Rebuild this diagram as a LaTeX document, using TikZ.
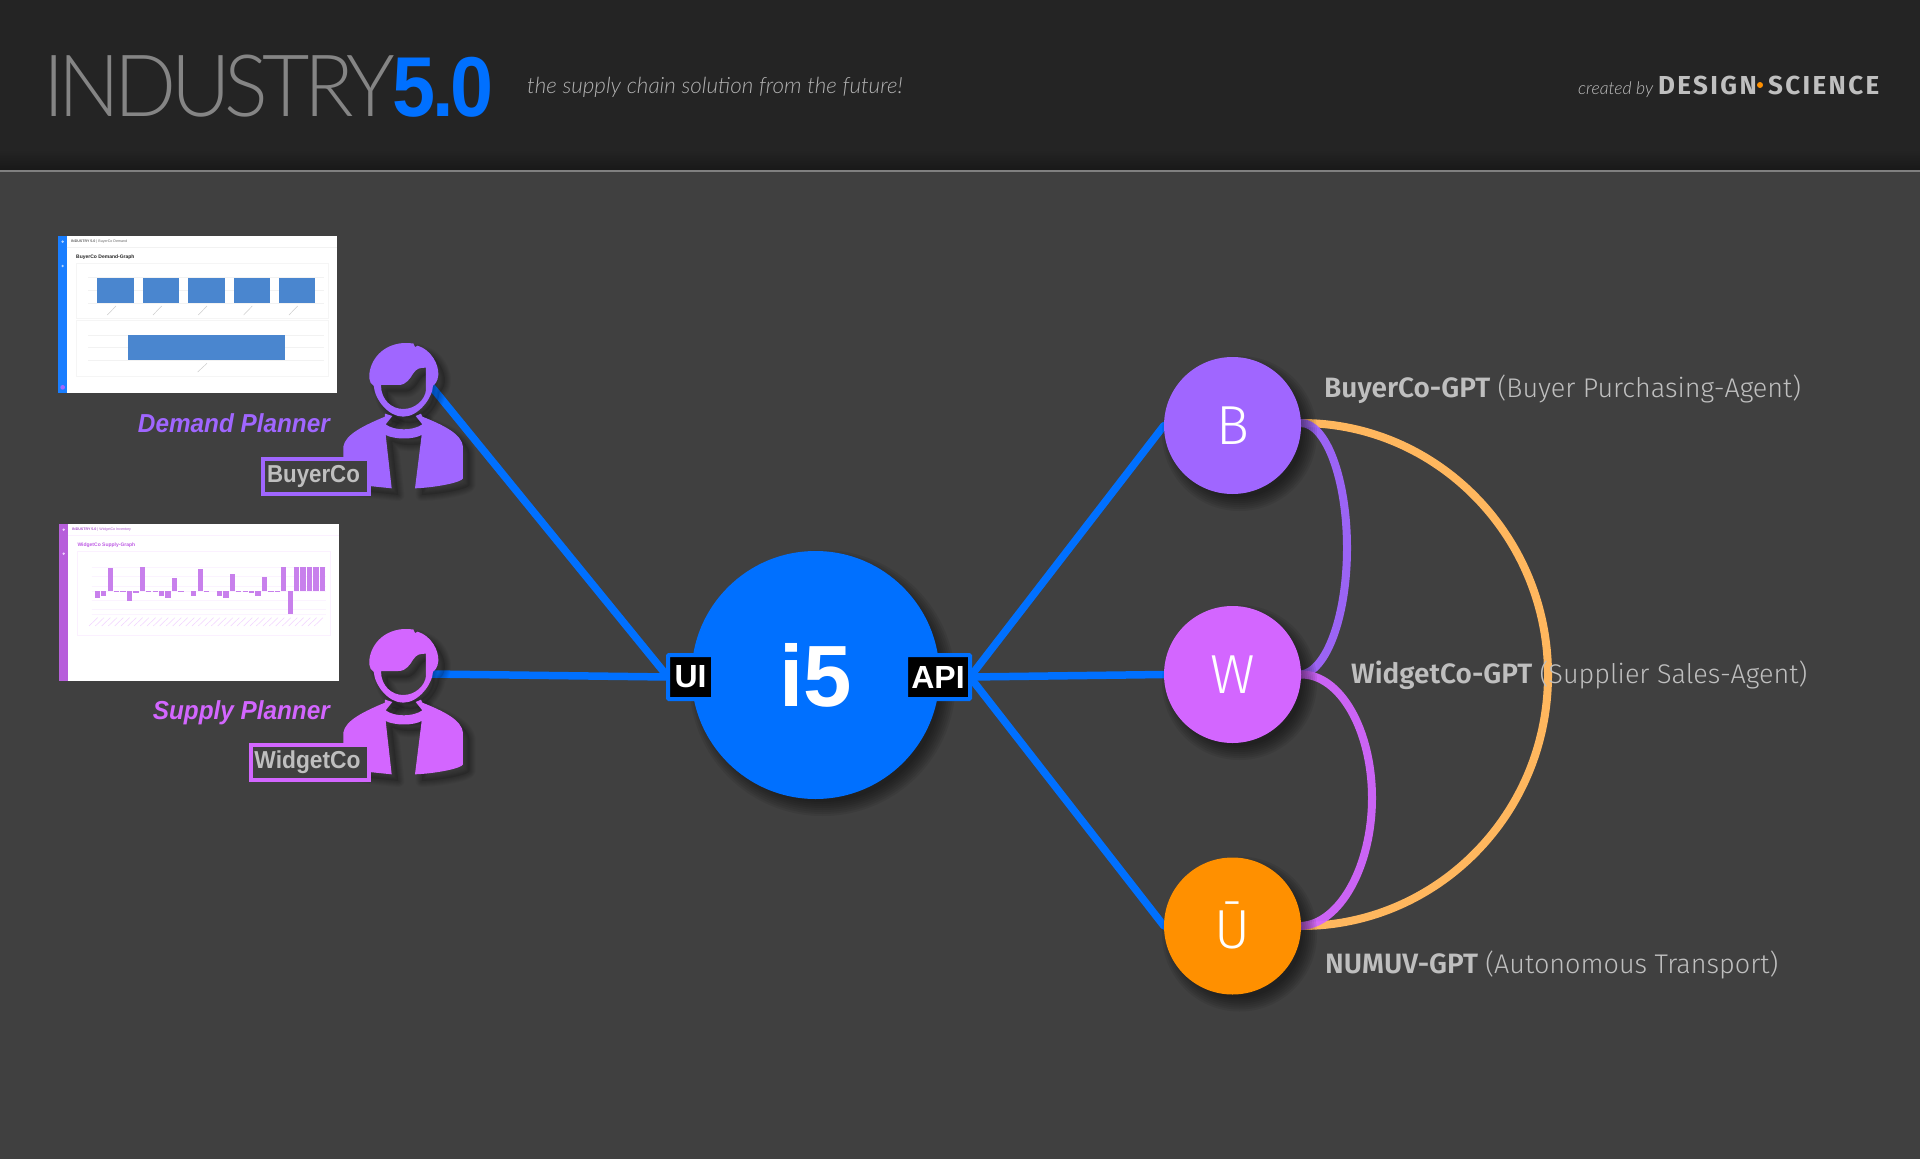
\documentclass[tikz,border=0pt]{standalone}
\usepackage{graphicx}
\usepackage{fontspec}
\setmainfont{Liberation Sans}
\newfontfamily\thinf{Lato Light}
\newfontfamily\lightf{Fira Sans Light}
\newfontfamily\boldf{Fira Sans SemiBold}
\newfontfamily\dsf{Fira Sans Bold}
\newfontfamily\robl{Lato Light}[ItalicFont=* Italic]
\definecolor{bgc}{HTML}{404040}
\definecolor{headc}{HTML}{242424}
\definecolor{blu}{HTML}{0070FF}
\definecolor{pur}{HTML}{A066FF}
\definecolor{pnk}{HTML}{D366FF}
\definecolor{org}{HTML}{FF9000}
\definecolor{lorg}{HTML}{FFB75E}
\definecolor{lbl}{HTML}{BFBFBF}
\definecolor{barb}{HTML}{4A86CF}
\definecolor{barp}{HTML}{C880EC}
\pgfdeclarelayer{wires}
\pgfsetlayers{wires,main}
\def\headpath{(103,130) .. controls (100,90) and (130,30) .. (205,24) -- (235,25) -- (240,36) -- (248,32) .. controls (290,45) and (312,90) .. (310,120) .. controls (308,140) and (300,148) .. (294,152) .. controls (292,190) and (250,245) .. (205,245) .. controls (160,245) and (120,195) .. (116,152) .. controls (108,148) and (104,140) .. (103,130) -- cycle (138,150) -- (190,150) .. controls (215,150) and (225,130) .. (235,115) .. controls (245,100) and (255,98) .. (273,98) -- (273,165) .. controls (270,195) and (240,222) .. (205,222) .. controls (170,222) and (138,195) .. (138,150) -- cycle}
\def\bodypath{(150,236) -- (172,243) -- (152,268) .. controls (178,288) and (235,288) .. (262,268) -- (242,243) -- (258,236) -- (262,245) .. controls (330,272) and (380,298) .. (384,335) -- (384,430) .. controls (382,442) and (300,458) .. (240,460) -- (260,300) .. controls (235,314) and (180,314) .. (152,300) -- (170,460) -- (25,445) -- (25,335) .. controls (30,298) and (90,270) .. (150,245) -- cycle}
\newcommand\personfig[2]{%
  \begin{scope}[shift={(#1)},x=.3333pt,y=-.3333pt]
    \foreach \w in {36,30,24,18,12,6}{
      \path[draw=black,line width=\w*.3333pt,line join=round,draw opacity=.04,shift={(20,20)}] \headpath;
      \path[draw=black,line width=\w*.3333pt,line join=round,draw opacity=.04,shift={(20,20)}] \bodypath;
    }
    \path[fill=black,fill opacity=.12,even odd rule,shift={(20,20)}] \headpath;
    \path[fill=black,fill opacity=.12,shift={(20,20)}] \bodypath;
    \path[fill=#2,even odd rule] \headpath;
    \path[fill=#2] \bodypath;
  \end{scope}}
\newcommand\softshadow[3]{%
  \foreach \k in {9,7,5,3,1,-1,-3,-5}{
    \fill[black,opacity=.07] ({#1+7},{#2+8}) circle ({#3+\k});
  }}
\tikzset{
  agent/.style={circle,inner sep=0pt,outer sep=0pt,minimum size=137pt,text=white,font=\lightf\fontsize{55}{55}\selectfont},
  port/.style={draw=blu,line width=4pt,fill=black,text=white,inner sep=0pt,outer sep=0pt,rounded corners=1pt,font=\bfseries\fontsize{32}{32}\selectfont,minimum height=44pt},
  wire/.style={draw=blu,line width=7.5pt,line cap=round},
  link/.style={line width=8pt,line cap=round},
  tagbox/.style={draw=#1,line width=4pt,fill=bgc,inner sep=0pt,text=lbl,font=\bfseries\fontsize{24.5}{25}\selectfont,minimum height=35pt},
  role/.style={anchor=base east,xscale=.935,inner sep=0pt,font=\bfseries\itshape\fontsize{26}{26}\selectfont},
  agentlabel/.style={anchor=base west,text=lbl,inner sep=0pt,font=\lightf\fontsize{27}{27}\selectfont},
  toplabel/.style={anchor=base west,inner sep=0pt},
  scrtitle/.style={anchor=west,inner sep=0pt,font=\bfseries\fontsize{5}{5}\selectfont},
  scrhead/.style={anchor=west,inner sep=0pt,font=\fontsize{3.6}{4}\selectfont},
}
\begin{document}
\begin{tikzpicture}[x=1pt,y=-1pt]
\useasboundingbox (0,0) rectangle (1920,1159);
\begin{pgfonlayer}{wires}
\fill[bgc] (0,0) rectangle (1920,1159);
\fill[headc] (0,0) rectangle (1920,150);
\shade[top color=headc,bottom color=black!35!headc] (0,150) rectangle (1920,171);
\draw[black!50,line width=1.5pt] (0,171) -- (1920,171);
\end{pgfonlayer}

% header
\node[toplabel,xscale=.95,text=black!48,font=\thinf\fontsize{86}{86}\selectfont\addfontfeature{LetterSpace=-7}] (title) at (43,116) {INDUSTRY};
\node[toplabel,xscale=.91,text=blu,font=\bfseries\fontsize{85}{85}\selectfont\addfontfeature{LetterSpace=-4}] (ver) at (392,116) {5.0};
\node[toplabel,text=black!30,font=\robl\itshape\fontsize{22.4}{23}\selectfont] (tag) at (527,93) {the supply chain solution from the future!};
\node[toplabel,text=black!25,font=\robl\itshape\fontsize{17.6}{18}\selectfont] (created) at (1578,94) {created by};
\node[toplabel,text=lbl,font=\dsf\fontsize{26}{26}\selectfont\addfontfeature{LetterSpace=9}] (design) at (1658,94) {DESIGN};
\fill[org] (1760,85) circle (3pt);
\node[toplabel,text=lbl,font=\dsf\fontsize{26}{26}\selectfont\addfontfeature{LetterSpace=9}] (science) at (1768,94) {SCIENCE};

% screenshot 1
\begin{scope}[shift={(40,225)},x=.3333pt,y=-.3333pt]
  \fill[white] (54,33) rectangle (890,503);
  \fill[blu!90!white] (54,33) rectangle (80,503);
  \fill[white!70!blu] (68,50) circle (4) (68,123) circle (4);
  \fill[pur] (68,487) circle (7);
  \draw[black!5,line width=.4pt] (80,67) -- (890,67);
  \node[scrhead,text=black!60] (s1h) at (93,50) {\textbf{INDUSTRY 5.0}\ |\ BuyerCo Demand};
  \node[scrtitle,text=black!85] (s1t) at (108,97) {BuyerCo Demand-Graph};
  \draw[black!4,line width=.5pt] (110,116) rectangle (865,280) (110,285) rectangle (865,453);
  \foreach \yy in {158,196,234,330,367,405}{\draw[black!5,line width=.4pt] (145,\yy) -- (853,\yy);}
  \foreach \xx in {172,309,445,581,717}{
    \fill[barb] (\xx,158) rectangle ({\xx+109},234);
    \draw[black!20,line width=.5pt] ({\xx+30},270) -- ({\xx+56},243);
  }
  \fill[barb] (263,330) rectangle (735,405);
  \draw[black!20,line width=.5pt] (473,441) -- (501,415);
\end{scope}

% screenshot 2
\begin{scope}[shift={(40,515)},x=.3333pt,y=-.3333pt]
  \fill[white] (57,27) rectangle (897,497);
  \fill[pnk!85!black!95] (57,27) rectangle (84,497);
  \fill[white!70!pnk] (71,44) circle (4) (71,116) circle (4);
  \draw[pnk!10,line width=.4pt] (84,61) -- (897,61);
  \node[scrhead,text=pnk!80!black] (s2h) at (96,44) {\textbf{INDUSTRY 5.0}\ |\ WidgetCo Inventory};
  \node[scrtitle,text=pnk!90!black] (s2t) at (112,90) {WidgetCo Supply-Graph};
  \draw[pnk!10,line width=.5pt] (112,108) rectangle (870,360);
  \foreach \yy in {157,185,213,228,256,284,298}{\draw[pnk!8,line width=.4pt] (155,\yy) -- (858,\yy);}
  \foreach \xx/\tip in {164/248,183/243,203/160,222/232,241/231,260/258,280/235,299/157,318/231,338/231,357/243,376/250,396/190,415/231,453/243,473/162,492/231,530/243,550/250,569/177,588/231,608/231,627/235,646/243,665/185,685/232,704/231,723/157,743/298,762/157,781/157,801/157,820/157,840/157}{
    \fill[barp] (\xx,228) rectangle ({\xx+16},\tip);
  }
  \foreach \xx in {147,166,185,205,224,243,263,282,301,321,340,359,379,398,417,437,456,475,495,514,533,553,572,591,611,630,649,669,688,707,727,746,765,785,804,823}{
    \draw[pnk!30,line width=.5pt] (\xx,333) -- ({\xx+26},308);
  }
\end{scope}

% people (free ends of their connectors are the two coordinates)
\coordinate (p1) at (431,386);
\coordinate (p2) at (431,674);
\personfig{335,335}{pur}
\personfig{335,621}{pnk}
\node[tagbox=pur,minimum width=106pt] (buyer) at (316,476.5) {\hspace*{-5pt}\raisebox{-1.5pt}{\scalebox{.91}[1]{BuyerCo}}};
\node[tagbox=pnk,minimum width=118pt] (widget) at (310,762.5) {\hspace*{-5pt}\raisebox{-1.5pt}{\scalebox{.93}[1]{WidgetCo}}};
\node[role,text=pur] (dp) at (330,432) {Demand Planner};
\node[role,text=pnk] (sp) at (330,719) {Supply Planner};

% hub
\softshadow{815.5}{675}{124}
\node[circle,fill=blu,inner sep=0pt,minimum size=248pt,text=white,font=\bfseries\fontsize{87}{87}\selectfont] (hub) at (815.5,675) {\raisebox{-2pt}{i5}};
\node[port,minimum width=45pt] (ui) at (690.5,677) {UI};
\node[port,minimum width=64pt] (api) at (938,677) {API};

% agents
\softshadow{1232.5}{425.5}{68.5}
\softshadow{1232.5}{674.5}{68.5}
\softshadow{1232.5}{926}{68.5}
\node[agent,fill=pur] (b) at (1232.5,425.5) {\raisebox{-1.5pt}{B}};
\node[agent,fill=pnk] (w) at (1232.5,674.5) {W};
\node[agent,fill=org] (u) at (1232.5,926) {\raisebox{2.5pt}{Ū}};
\node[agentlabel] (lb) at (1324,397) {{\boldf\fontsize{28}{28}\selectfont BuyerCo-GPT} (Buyer Purchasing-Agent)};
\node[agentlabel] (lw) at (1351,683) {{\boldf\fontsize{28}{28}\selectfont WidgetCo-GPT} (Supplier Sales-Agent)};
\node[agentlabel] (ln) at (1325,973) {{\boldf\fontsize{28}{28}\selectfont NUMUV-GPT} (Autonomous Transport)};

% connectors, under the nodes and their shadows
\begin{pgfonlayer}{wires}
\draw[wire] (p1) -- (ui.west);
\draw[wire] (p2) -- (ui.west);
\draw[wire] (api.east) -- (b.west);
\draw[wire] (api.east) -- (w.west);
\draw[wire] (api.east) -- (u.west);
\draw[link,draw=lorg] ([yshift=2.5pt]b.east) .. controls (1437,423) and (1548,536) .. (1548,675) .. controls (1548,814) and (1437,926) .. (u.east);
\draw[link,draw=pur,opacity=.95] ([yshift=2.5pt]b.east) .. controls (1326,423) and (1347,479) .. (1347,548) .. controls (1347,617) and (1326,672) .. (w.east);
\draw[link,draw=pnk,opacity=.95] (w.east) .. controls (1340,674) and (1372,730) .. (1372,798) .. controls (1372,866) and (1340,924) .. (u.east);
\end{pgfonlayer}
\end{tikzpicture}
\end{document}
